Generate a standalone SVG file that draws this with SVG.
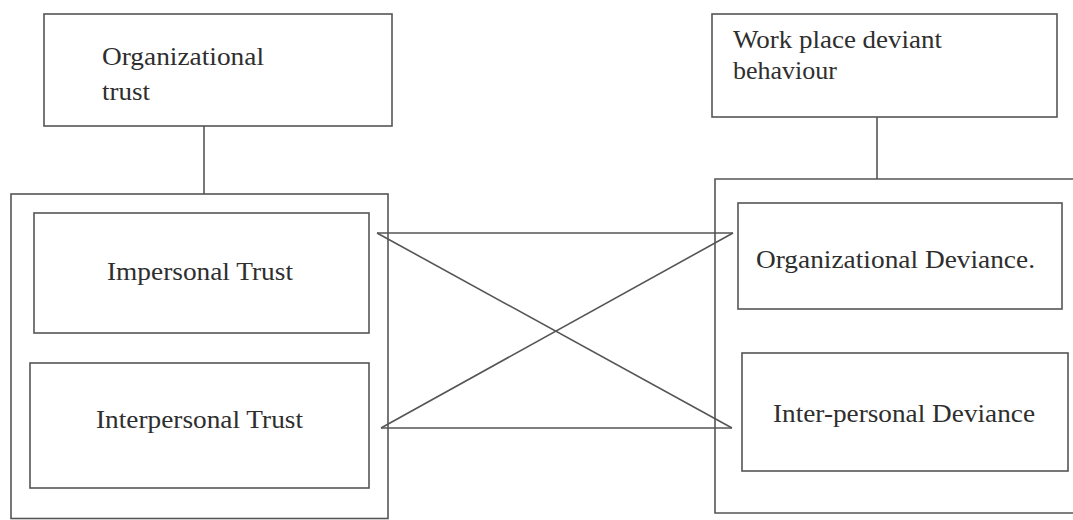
<svg xmlns="http://www.w3.org/2000/svg" width="1073" height="520" viewBox="0 0 1073 520">
<style>
.box{fill:none;stroke:#555;stroke-width:1.6}
.ln{stroke:#555;stroke-width:1.6;fill:none}
.t{font-family:"Liberation Serif","Times New Roman",serif;font-size:25px;fill:#2e2e2e}
</style>
<rect x="0" y="0" width="1073" height="520" fill="#fff"/>
<g id="org-trust">
<rect class="box" x="44" y="14" width="348" height="112"/>
<text class="t" x="102" y="65" textLength="162" lengthAdjust="spacingAndGlyphs">Organizational</text>
<text class="t" x="102" y="100" textLength="48" lengthAdjust="spacingAndGlyphs">trust</text>
</g>
<g id="trust-group">
<rect class="box" x="11" y="194" width="377" height="324.5"/>
</g>
<g id="impersonal-trust">
<rect class="box" x="34" y="213" width="335" height="120"/>
<text class="t" x="107" y="280" textLength="186" lengthAdjust="spacingAndGlyphs">Impersonal Trust</text>
</g>
<g id="interpersonal-trust">
<rect class="box" x="30" y="363" width="339" height="125"/>
<text class="t" x="96" y="428" textLength="207" lengthAdjust="spacingAndGlyphs">Interpersonal Trust</text>
</g>
<g id="wdb">
<rect class="box" x="712" y="14" width="345" height="103"/>
<text class="t" x="733" y="48" textLength="209" lengthAdjust="spacingAndGlyphs">Work place deviant</text>
<text class="t" x="733" y="79" textLength="104" lengthAdjust="spacingAndGlyphs">behaviour</text>
</g>
<g id="deviance-group">
<path class="ln" d="M1075 179 H715 V513 H1075"/>
</g>
<g id="org-deviance">
<rect class="box" x="738" y="203" width="324" height="106"/>
<text class="t" x="756" y="268" textLength="279" lengthAdjust="spacingAndGlyphs">Organizational Deviance.</text>
</g>
<g id="inter-deviance">
<rect class="box" x="742" y="353" width="326" height="118"/>
<text class="t" x="773" y="422" textLength="262" lengthAdjust="spacingAndGlyphs">Inter-personal Deviance</text>
</g>
<g id="connectors">
<line class="ln" x1="204" y1="126" x2="204" y2="194"/>
<line class="ln" x1="877" y1="117" x2="877" y2="179"/>
<line class="ln" x1="377" y1="233" x2="733" y2="233"/>
<line class="ln" x1="381" y1="428" x2="732" y2="428"/>
<line class="ln" x1="377" y1="233" x2="732" y2="428"/>
<line class="ln" x1="381" y1="428" x2="733" y2="233"/>
</g>
</svg>
